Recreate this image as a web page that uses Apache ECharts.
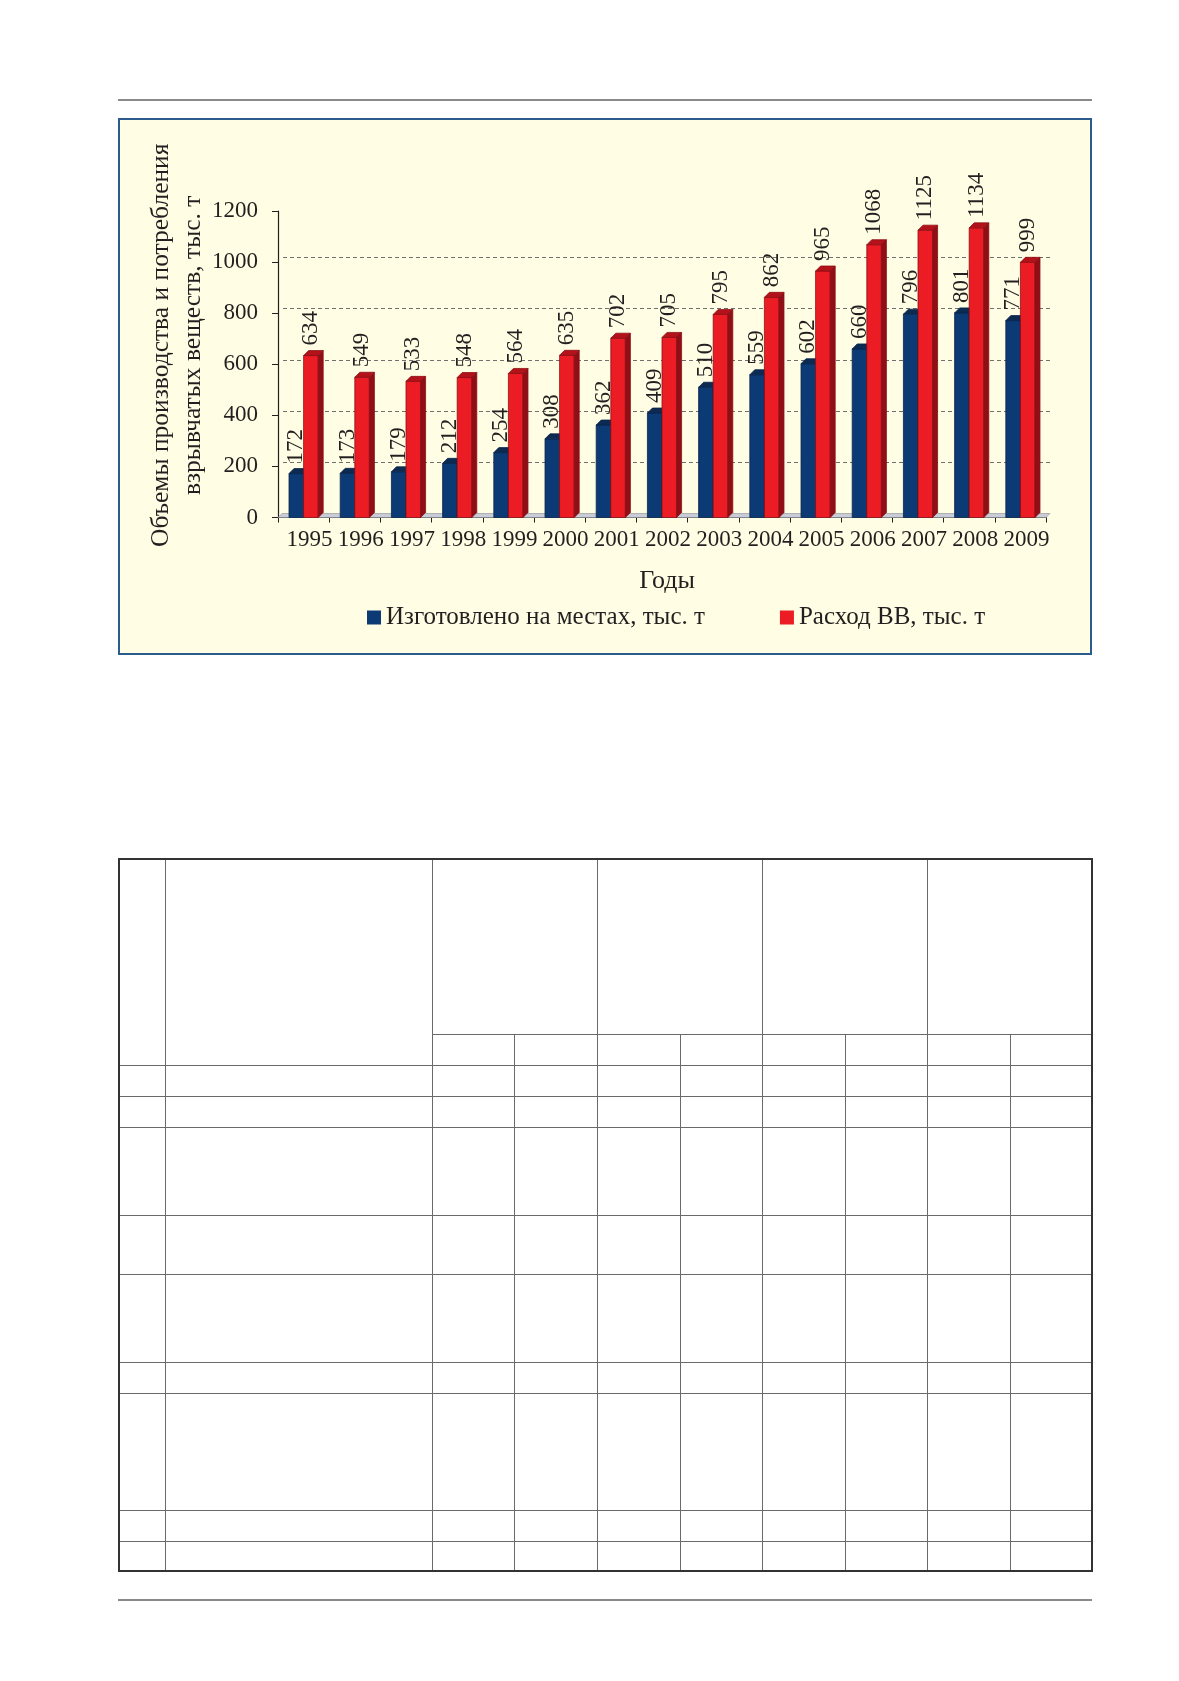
<!DOCTYPE html>
<html>
<head>
<meta charset="utf-8">
<title>Объемы производства и потребления ВВ</title>
<script src="https://cdn.jsdelivr.net/npm/echarts@6/dist/echarts.min.js"></script>
<style>
    html, body { margin: 0; padding: 0; background: #fff; }
    #page { position: relative; width: 1179px; height: 1681px; overflow: hidden; }
    .frame { position: absolute; left: 118px; top: 118px; width: 970px; height: 533px;
             background: #fffde3; border: 2px solid #2c5b8e; }
    .ln { position: absolute; }
    #chart { position: absolute; left: 0; top: 0; width: 1179px; height: 700px; }
</style>
</head>
<body>
<div id="page">
    <div class="frame"></div>
    <div id="chart"></div>
</div>
<script>
// data
const years = ['1995', '1996', '1997', '1998', '1999', '2000', '2001', '2002',
    '2003', '2004', '2005', '2006', '2007', '2008', '2009'];
const madeOnSite = [172, 173, 179, 212, 254, 308, 362, 409, 510, 559, 602, 660, 796, 801, 771];
const consumption = [634, 549, 533, 548, 564, 635, 702, 705, 795, 862, 965, 1068, 1125, 1134, 999];
const seriesNames = ['Изготовлено на местах, тыс. т', 'Расход ВВ, тыс. т'];
const valueTicks = [0, 200, 400, 600, 800, 1000, 1200];
const yTitle = 'Объемы производства и потребления\nвзрывчатых веществ, тыс. т';
const xTitle = 'Годы';

// empty table below the chart (page layout, not data)
const tableCols = [119, 165, 432, 597, 762, 927, 1092];
const tableSubCols = [514, 680, 845, 1010];
const tableRows = [859, 1034, 1065, 1096, 1127, 1215, 1274, 1362, 1393, 1510, 1541, 1571];

const SERIF = '"Liberation Serif", "DejaVu Serif", serif';
const INK = '#231f20';

const page = document.getElementById('page');
function addLine(x, y, w, h, color) {
    const d = document.createElement('div');
    d.className = 'ln';
    d.style.left = x + 'px';
    d.style.top = y + 'px';
    d.style.width = w + 'px';
    d.style.height = h + 'px';
    d.style.background = color;
    page.appendChild(d);
}

function drawPage() {
    // rules at top and bottom of the page
    addLine(118, 99, 974, 2, '#8a8a8a');
    addLine(118, 1599, 974, 2, '#8a8a8a');

    const top = tableRows[0], bottom = tableRows[tableRows.length - 1];
    const left = tableCols[0], right = tableCols[tableCols.length - 1];
    const inner = '#6a6a6a';
    // inner verticals
    for (let i = 1; i < tableCols.length - 1; i++) {
        addLine(tableCols[i], top, 1, bottom - top, inner);
    }
    tableSubCols.forEach(function (x) {
        addLine(x, tableRows[1], 1, bottom - tableRows[1], inner);
    });
    // sub-header line only under the grouped columns
    addLine(tableCols[2], tableRows[1], right - tableCols[2], 1, inner);
    for (let i = 2; i < tableRows.length - 1; i++) {
        addLine(left, tableRows[i], right - left, 1, inner);
    }
    // outer border
    addLine(left - 1, top - 1, right - left + 2, 2, '#333');
    addLine(left - 1, bottom - 1, right - left + 2, 2, '#333');
    addLine(left - 1, top - 1, 2, bottom - top + 2, '#333');
    addLine(right - 1, top - 1, 2, bottom - top + 2, '#333');
}

// pseudo-3D column: front face, top face, right side face and a rotated value label
function columnRenderer(front, topFace, side, shift) {
    return function (params, api) {
        const val = api.value(1);
        const head = api.coord([api.value(0), val]);
        const base = api.coord([api.value(0), 0]);
        const band = api.size([1, 0])[0];
        const w = band * 0.285;
        const d = 5;
        const x0 = head[0] + shift * w;
        const y = head[1];
        const yb = base[1];
        return {
            type: 'group',
            children: [
                {
                    type: 'rect',
                    shape: { x: x0, y: y, width: w, height: yb - y },
                    style: { fill: front, stroke: side, lineWidth: 0.8 }
                },
                {
                    type: 'polygon',
                    shape: { points: [[x0, y], [x0 + d, y - d], [x0 + w + d, y - d], [x0 + w, y]] },
                    style: { fill: topFace, stroke: side, lineWidth: 0.8 }
                },
                {
                    type: 'polygon',
                    shape: { points: [[x0 + w, y], [x0 + w + d, y - d], [x0 + w + d, yb - d], [x0 + w, yb]] },
                    style: { fill: side, stroke: side, lineWidth: 0.8 }
                },
                {
                    type: 'text',
                    x: x0 + w / 2,
                    y: y - 10,
                    rotation: Math.PI / 2,
                    style: {
                        text: String(val),
                        fontSize: 23,
                        fontFamily: SERIF,
                        fill: INK,
                        align: 'left',
                        verticalAlign: 'middle'
                    }
                }
            ]
        };
    };
}

const vbChart = {
    dom: null,
    chart: null,
    option: {
        backgroundColor: 'transparent',
        animation: false,
        textStyle: { fontFamily: SERIF, color: INK },
        grid: [
            // front plane
            { left: 278, top: 211, width: 768, height: 306.5, containLabel: false },
            // back wall (gridlines sit a little up and to the right)
            { left: 283, top: 206.5, width: 768, height: 306.5, containLabel: false }
        ],
        legend: {
            left: 367,
            top: 605,
            padding: 0,
            itemWidth: 14,
            itemHeight: 14,
            itemGap: 75,
            icon: 'rect',
            textStyle: { fontFamily: SERIF, fontSize: 25, color: INK },
            data: seriesNames
        },
        xAxis: [
            {
                type: 'category',
                gridIndex: 0,
                data: years,
                boundaryGap: true,
                axisLine: { lineStyle: { color: INK, width: 1.2 } },
                axisTick: { show: true, length: 5, lineStyle: { color: INK } },
                axisLabel: {
                    interval: 0,
                    margin: 11,
                    fontSize: 23,
                    fontFamily: SERIF,
                    color: INK,
                    padding: [0, 0, 0, 12]
                },
                name: xTitle,
                nameLocation: 'middle',
                nameGap: 51,
                nameMoveOverlap: false,
                nameTextStyle: { fontSize: 26, fontFamily: SERIF, color: INK, padding: [0, 0, 0, 10] }
            },
            {
                type: 'category',
                gridIndex: 1,
                data: years,
                show: false
            }
        ],
        yAxis: [
            {
                type: 'value',
                gridIndex: 0,
                min: valueTicks[0],
                max: valueTicks[valueTicks.length - 1],
                interval: valueTicks[1] - valueTicks[0],
                axisLine: { show: true, lineStyle: { color: INK, width: 1.2 } },
                axisTick: { show: true, length: 6, lineStyle: { color: INK } },
                axisLabel: {
                    margin: 20,
                    fontSize: 23,
                    fontFamily: SERIF,
                    color: INK,
                    formatter: function (v) { return String(v); }
                },
                splitLine: { show: false },
                name: yTitle,
                nameLocation: 'middle',
                nameGap: 69,
                nameMoveOverlap: false,
                nameTextStyle: {
                    fontSize: 25.5,
                    lineHeight: 32,
                    fontFamily: SERIF,
                    color: INK,
                    padding: [0, 0, 0, 38]
                }
            },
            {
                type: 'value',
                gridIndex: 1,
                min: valueTicks[0],
                max: valueTicks[valueTicks.length - 1],
                interval: valueTicks[1] - valueTicks[0],
                axisLine: { show: false },
                axisTick: { show: false },
                axisLabel: { show: false },
                splitLine: {
                    show: true,
                    showMinLine: false,
                    showMaxLine: false,
                    lineStyle: { color: '#707070', width: 1, type: [4, 3] }
                }
            }
        ],
        graphic: [
            {
                // floor slab of the 3D plot
                type: 'polygon',
                z: 1,
                shape: { points: [[278, 517.5], [282, 513.5], [1050, 513.5], [1046, 517.5]] },
                style: { fill: '#c9ccd6', stroke: '#8a8d96', lineWidth: 0.6 }
            }
        ],
        series: [
            {
                name: seriesNames[0],
                type: 'custom',
                xAxisIndex: 0,
                yAxisIndex: 0,
                clip: false,
                itemStyle: { color: '#0b3a74' },
                encode: { x: 0, y: 1 },
                renderItem: columnRenderer('#0b3a74', '#0d2a52', '#08264d', -1),
                data: madeOnSite.map(function (v, i) { return [i, v]; })
            },
            {
                name: seriesNames[1],
                type: 'custom',
                xAxisIndex: 0,
                yAxisIndex: 0,
                clip: false,
                itemStyle: { color: '#ec1c24' },
                encode: { x: 0, y: 1 },
                renderItem: columnRenderer('#ec1c24', '#b3121a', '#8e0f15', 0),
                data: consumption.map(function (v, i) { return [i, v]; })
            }
        ]
    },
    initChart: function () {
        this.dom = document.getElementById('chart');
        this.chart = echarts.init(this.dom, null, { renderer: 'canvas' });
        this.chart.setOption(this.option);
    }
};

drawPage();
vbChart.initChart();
</script>
</body>
</html>
